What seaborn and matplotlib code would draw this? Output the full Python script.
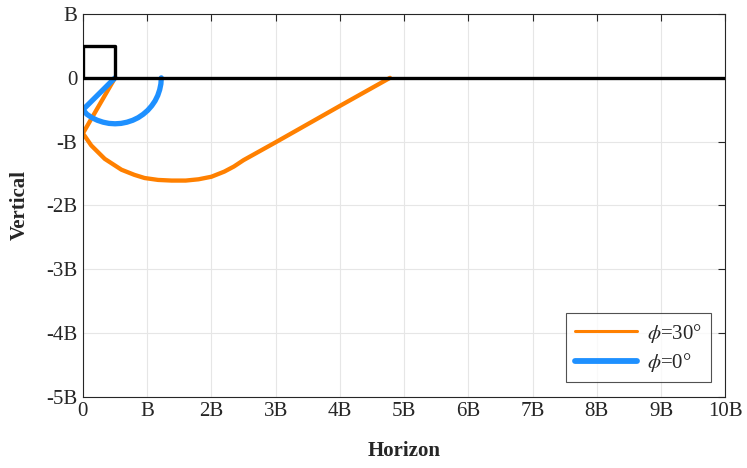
import matplotlib
matplotlib.use("Agg")
import matplotlib.pyplot as plt
import seaborn as sns
from matplotlib.ticker import FixedLocator, FixedFormatter

# ---- data (units of B) ----
box_x = [0.0, 0.0, 0.5, 0.5]
box_y = [0.0, 0.5, 0.5, 0.0]
ground_x = [0.0, 10.0]
ground_y = [0.0, 0.0]

phi30_x = [0.5, 0.0, 0.13, 0.34, 0.60, 0.80, 0.96, 1.17, 1.38, 1.60, 1.80,
           2.00, 2.20, 2.35, 2.50, 3.00, 4.00, 4.78]
phi30_y = [0.0, -0.87, -1.06, -1.27, -1.44, -1.52, -1.57, -1.60, -1.61, -1.61, -1.59,
           -1.55, -1.47, -1.39, -1.29, -1.01, -0.44, 0.0]

phi0_x = [0.5, 0.0, 0.062, 0.14, 0.224, 0.314, 0.406, 0.5, 0.594, 0.686, 0.776,
          0.86, 0.938, 1.009, 1.071, 1.124, 1.165, 1.195, 1.214, 1.22]
phi0_y = [0.0, -0.5, -0.571, -0.624, -0.665, -0.695, -0.714, -0.72, -0.714, -0.695, -0.665,
          -0.624, -0.571, -0.509, -0.438, -0.36, -0.276, -0.186, -0.094, 0.0]

xticks = [0, 1, 2, 3, 4, 5, 6, 7, 8, 9, 10]
xtick_labels = ["0", "B", "2B", "3B", "4B", "5B", "6B", "7B", "8B", "9B", "10B"]
yticks = [1, 0, -1, -2, -3, -4, -5]
ytick_labels = ["B", "0", "-B", "-2B", "-3B", "-4B", "-5B"]

sns.set_style("white")
plt.rcParams['font.family'] = ['Liberation Serif', 'DejaVu Serif']
plt.rcParams['mathtext.fontset'] = 'stix'

fig = plt.figure(figsize=(7.47, 4.68), dpi=100)
ax = fig.add_axes([0.111, 0.152, 0.860, 0.818])

orange = "#FF8000"
blue = "#1E90FF"

sns.lineplot(x=box_x, y=box_y, sort=False, estimator=None, color="black", lw=2.4, ax=ax, zorder=3)
sns.lineplot(x=ground_x, y=ground_y, sort=False, estimator=None, color="black", lw=2.4, ax=ax, zorder=3)
sns.lineplot(x=phi30_x, y=phi30_y, sort=False, estimator=None, color=orange, lw=3.1, ax=ax,
             label=r"$\phi$=30°", zorder=2)
sns.lineplot(x=phi0_x, y=phi0_y, sort=False, estimator=None, color=blue, lw=3.8, ax=ax,
             label=r"$\phi$=0°", zorder=2.5)

ax.set_xlim(0, 10)
ax.set_ylim(-5, 1)
ax.xaxis.set_major_locator(FixedLocator(xticks))
ax.xaxis.set_major_formatter(FixedFormatter(xtick_labels))
ax.yaxis.set_major_locator(FixedLocator(yticks))
ax.yaxis.set_major_formatter(FixedFormatter(ytick_labels))

ax.grid(True, color="#E6E6E6", lw=0.8)
ax.set_axisbelow(True)
for s in ax.spines.values():
    s.set_color("#262626")
    s.set_linewidth(0.8)
    s.set_visible(True)
ax.tick_params(direction="in", length=5, width=0.8, color="#262626",
               top=True, right=True, labelsize=15, pad=4)

ax.set_xlabel("Horizon", fontsize=15, fontweight="bold", labelpad=14)
ax.set_ylabel("Vertical", fontsize=15, fontweight="bold", labelpad=12)

leg = ax.legend(loc="lower right", fontsize=15, frameon=True, fancybox=False,
                edgecolor="#262626", handlelength=3.0, borderaxespad=0.7,
                labelspacing=0.3, handletextpad=0.5, borderpad=0.4)
leg.get_frame().set_linewidth(0.8)
leg_lines = leg.get_lines()
leg_lines[0].set_linewidth(2.2)
leg_lines[1].set_linewidth(4.2)

fig.savefig("out.png", dpi=100)
